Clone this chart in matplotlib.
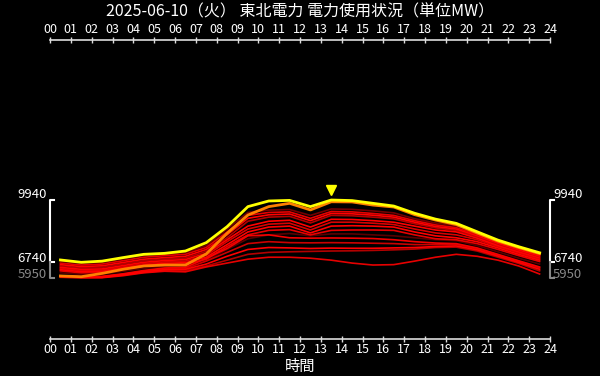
import numpy as np
import matplotlib
matplotlib.use("Agg")
import matplotlib.pyplot as plt
from matplotlib.transforms import blended_transform_factory, offset_copy

plt.rcParams['font.family'] = ['Noto Sans CJK JP', 'DejaVu Sans']

# hourly values (MW), plotted at the middle of each hour
hours = np.arange(24) + 0.5
today = [6860, 6740, 6800, 6980, 7150, 7200, 7320, 7750, 8570, 9600, 9890, 9920,
         9600, 9940, 9910, 9770, 9630, 9260, 8960, 8740, 8310, 7880, 7540, 7230]
yesterday = [6040, 6000, 6170, 6380, 6550, 6600, 6600, 7170, 8230, 9170, 9600, 9770,
             9430, 9850, 9840, 9680, 9580, 9190, 8910, 8680, 8250, 7830, 7500, 7190]

past_days = [
    [6800, 6700, 6750, 6920, 7100, 7150, 7250, 7600, 8450, 9300, 9420, 9450, 9150, 9480, 9460, 9380, 9280, 8980, 8760, 8620, 8260, 7860, 7510, 7180],
    [6700, 6600, 6650, 6820, 7000, 7080, 7150, 7500, 8300, 9150, 9300, 9330, 9000, 9350, 9330, 9250, 9150, 8880, 8660, 8520, 8170, 7780, 7430, 7110],
    [6620, 6520, 6560, 6730, 6900, 6980, 7050, 7400, 8150, 9000, 9180, 9220, 8880, 9250, 9230, 9160, 9060, 8800, 8580, 8450, 8100, 7720, 7370, 7060],
    [6550, 6450, 6480, 6650, 6820, 6900, 6960, 7300, 8000, 8850, 9060, 9100, 8760, 9150, 9130, 9060, 8970, 8720, 8510, 8380, 8040, 7660, 7320, 7010],
    [6480, 6380, 6400, 6570, 6740, 6830, 6880, 7200, 7900, 8600, 8850, 8900, 8550, 8950, 8940, 8880, 8800, 8600, 8400, 8300, 7980, 7600, 7270, 6960],
    [6420, 6320, 6340, 6500, 6670, 6760, 6800, 7100, 7800, 8450, 8700, 8750, 8400, 8800, 8800, 8750, 8680, 8450, 8250, 8150, 7900, 7550, 7220, 6900],
    [6360, 6260, 6280, 6440, 6600, 6690, 6720, 7000, 7650, 8300, 8550, 8600, 8250, 8600, 8620, 8600, 8550, 8300, 8100, 8000, 7800, 7480, 7150, 6850],
    [6300, 6200, 6220, 6380, 6540, 6630, 6650, 6900, 7550, 8150, 8380, 8420, 8150, 8380, 8400, 8400, 8380, 8150, 7950, 7900, 7700, 7400, 7080, 6780],
    [6200, 6120, 6130, 6280, 6430, 6520, 6540, 6850, 7400, 7950, 8150, 8220, 8100, 8200, 8200, 8150, 8100, 8000, 7900, 7850, 7600, 7280, 6950, 6650],
    [6050, 6000, 6020, 6150, 6320, 6450, 6480, 6950, 7450, 8100, 8150, 8000, 7980, 7990, 7980, 7960, 7900, 7800, 7730, 7700, 7480, 7150, 6820, 6500],
    [6020, 5980, 6000, 6120, 6280, 6400, 6420, 6800, 7250, 7700, 7800, 7750, 7740, 7750, 7740, 7720, 7700, 7650, 7650, 7650, 7430, 7100, 6780, 6450],
    [6000, 5960, 5970, 6100, 6250, 6360, 6380, 6650, 7050, 7400, 7500, 7480, 7450, 7470, 7460, 7460, 7480, 7500, 7550, 7580, 7380, 7060, 6730, 6380],
    [5980, 5950, 5960, 6080, 6220, 6320, 6320, 6550, 6850, 7150, 7250, 7280, 7300, 7320, 7330, 7350, 7380, 7420, 7500, 7520, 7320, 7000, 6680, 6300],
    [5970, 5950, 5950, 6050, 6200, 6280, 6250, 6500, 6700, 6900, 7000, 7000, 6950, 6850, 6700, 6600, 6620, 6800, 7000, 7150, 7050, 6850, 6550, 6140],
]
past_alpha = [0.45, 0.9, 1.0, 0.7, 1.0, 0.85, 1.0, 0.9, 0.35, 0.95, 0.8, 1.0, 0.7, 0.9]

hour_labels = ["%02d" % h for h in range(25)]
title = "2025-06-10（火） 東北電力 電力使用状況（単位MW）"

fig = plt.figure(figsize=(6, 3.76), dpi=100, facecolor='black')
ax = fig.add_axes([50/600, 1-339/376, 500/600, 299/376], facecolor='black')

for vals, a in zip(past_days, past_alpha):
    ax.plot(hours, vals, color='red', alpha=a, linewidth=1.2)
ax.plot(hours, yesterday, color='#ff8000', linewidth=2)
ax.plot(hours, today, color='yellow', linewidth=2)

# peak marker
peak_i = int(np.argmax(today))
ax.plot(hours[peak_i], today[peak_i], marker='v', color='yellow', markersize=7,
        transform=offset_copy(ax.transData, fig=fig, y=10, units='dots'))

ax.set_xlim(0, 24)
ax.set_ylim(2800, 18160)

# x axis on both top and bottom
ax.set_xticks(range(25))
ax.set_xticklabels(hour_labels)
ax.tick_params(axis='x', which='both', top=True, labeltop=True, bottom=True, labelbottom=True,
               direction='inout', length=4, width=1, colors='#dddddd', labelsize=9, pad=1)
for lab in ax.get_xticklabels():
    lab.set_color('white')
ax.set_yticks([])
for s in ['left', 'right']:
    ax.spines[s].set_visible(False)
for s in ['top', 'bottom']:
    ax.spines[s].set_color('#dddddd')
    ax.spines[s].set_linewidth(1.2)
ax.set_xlabel("時間", color='white', fontsize=11, labelpad=1)

# y range brackets
vmax = max(today)
vmin = min(today)
allmin = min(min(v) for v in past_days + [today, yesterday])
tr = blended_transform_factory(ax.transAxes, ax.transData)
tk = 0.007
for x0 in [0.0, 1.0]:
    ax.plot([x0 + tk, x0, x0, x0 + tk], [vmax, vmax, vmin, vmin], color='white',
            linewidth=1.5, transform=tr, clip_on=False)
    ax.plot([x0, x0, x0 + tk], [vmin, allmin, allmin], color='#888888',
            linewidth=1.5, transform=tr, clip_on=False)

for v, c, dy in [(vmax, 'white', 6), (vmin, 'white', 4), (allmin, '#888888', 3)]:
    ax.text(0, v, str(v), color=c, fontsize=9.5, ha='right', va='center',
            transform=offset_copy(tr, fig=fig, x=-3, y=dy, units='dots'))
    ax.text(1, v, str(v), color=c, fontsize=9.5, ha='left', va='center',
            transform=offset_copy(tr, fig=fig, x=3, y=dy, units='dots'))

fig.text(0.5, 1-12/376, title, color='white', fontsize=11.5, ha='center', va='center')

fig.savefig("out.png", dpi=100, facecolor='black')
